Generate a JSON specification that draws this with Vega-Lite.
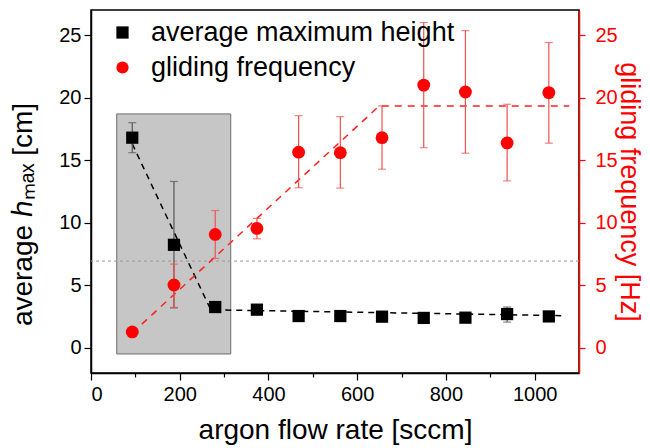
{
  "$schema": "https://vega.github.io/schema/vega-lite/v6.json",
  "width": 488,
  "height": 363,
  "autosize": {"type": "none"},
  "padding": {"left": 91, "top": 10, "right": 71, "bottom": 75},
  "background": "white",
  "config": {
    "font": "Liberation Sans",
    "view": {"stroke": "black", "strokeWidth": 1.5},
    "axis": {
      "grid": false,
      "labelFont": "Liberation Sans",
      "labelFontSize": 20,
      "labelColor": "black",
      "titleFont": "Liberation Sans",
      "titleFontSize": 28,
      "titleFontWeight": "normal",
      "titleColor": "black",
      "domainColor": "black",
      "domainWidth": 1.5,
      "tickColor": "black",
      "tickWidth": 1.2
    }
  },
  "datasets": {
    "pts": [
      {"series": "average maximum height", "x": 93, "y": 16.8, "lo": 15.6, "hi": 18.0},
      {"series": "average maximum height", "x": 187, "y": 8.24, "lo": 3.2, "hi": 13.3},
      {"series": "average maximum height", "x": 280, "y": 3.27, "lo": 3.1, "hi": 3.45},
      {"series": "average maximum height", "x": 374, "y": 3.06, "lo": 2.9, "hi": 3.2},
      {"series": "average maximum height", "x": 468, "y": 2.55, "lo": 2.4, "hi": 2.7},
      {"series": "average maximum height", "x": 562, "y": 2.55, "lo": 2.4, "hi": 2.7},
      {"series": "average maximum height", "x": 656, "y": 2.5, "lo": 2.35, "hi": 2.65},
      {"series": "average maximum height", "x": 750, "y": 2.4, "lo": 2.25, "hi": 2.55},
      {"series": "average maximum height", "x": 844, "y": 2.42, "lo": 2.27, "hi": 2.57},
      {"series": "average maximum height", "x": 938, "y": 2.71, "lo": 2.07, "hi": 3.27},
      {"series": "average maximum height", "x": 1032, "y": 2.52, "lo": 2.37, "hi": 2.67},
      {"series": "gliding frequency", "x": 93, "y": 1.28, "lo": 1.0, "hi": 1.55},
      {"series": "gliding frequency", "x": 187, "y": 5.03, "lo": 3.24, "hi": 6.7},
      {"series": "gliding frequency", "x": 280, "y": 9.07, "lo": 7.15, "hi": 10.98},
      {"series": "gliding frequency", "x": 374, "y": 9.55, "lo": 8.72, "hi": 10.35},
      {"series": "gliding frequency", "x": 468, "y": 15.64, "lo": 12.8, "hi": 18.56},
      {"series": "gliding frequency", "x": 562, "y": 15.6, "lo": 12.77, "hi": 18.48},
      {"series": "gliding frequency", "x": 656, "y": 16.8, "lo": 14.28, "hi": 19.34},
      {"series": "gliding frequency", "x": 750, "y": 21.0, "lo": 16.0, "hi": 26.0},
      {"series": "gliding frequency", "x": 844, "y": 20.45, "lo": 15.56, "hi": 25.35},
      {"series": "gliding frequency", "x": 938, "y": 16.38, "lo": 13.35, "hi": 19.47},
      {"series": "gliding frequency", "x": 1032, "y": 20.4, "lo": 16.36, "hi": 24.4}
    ],
    "fits": [
      {"series": "average maximum height", "x": 93, "y": 16.3},
      {"series": "average maximum height", "x": 270, "y": 3.05},
      {"series": "average maximum height", "x": 1066, "y": 2.58},
      {"series": "gliding frequency", "x": 93, "y": 1.2},
      {"series": "gliding frequency", "x": 650, "y": 19.34},
      {"series": "gliding frequency", "x": 1078, "y": 19.34}
    ],
    "box": [{"x0": 58, "x1": 315, "y0": -0.48, "y1": 18.7}],
    "hline": [{"y": 6.94}]
  },
  "layer": [
    {
      "layer": [
        {
          "data": {"name": "box"},
          "mark": {"type": "rect", "fill": "#c6c6c6", "stroke": "#6e6e6e", "strokeWidth": 1},
          "encoding": {
            "x": {"field": "x0", "type": "quantitative", "title": "argon flow rate [sccm]", "scale": {"domain": [0, 1100], "nice": false, "zero": false}, "axis": {"values": [0, 100, 200, 300, 400, 500, 600, 700, 800, 900, 1000], "format": "d", "labelExpr": "datum.value % 200 === 0 ? datum.label : ''", "tickSize": {"condition": {"test": "datum.value % 200 === 0", "value": 7}, "value": 4}, "labelPadding": 4, "titlePadding": 12}},
            "x2": {"field": "x1"},
            "y": {"field": "y0", "type": "quantitative", "title": "average ℎₘₐₓ [cm]", "scale": {"domain": [-2, 27], "nice": false, "zero": false}, "axis": {"orient": "left", "values": [0, 2.5, 5, 7.5, 10, 12.5, 15, 17.5, 20, 22.5, 25], "format": "d", "labelExpr": "datum.value % 5 === 0 ? datum.label : ''", "tickSize": {"condition": {"test": "datum.value % 5 === 0", "value": 7}, "value": 4}, "labelPadding": 3, "titlePadding": 21, "titleY": 204}},
            "y2": {"field": "y1"}
          }
        },
        {
          "data": {"name": "hline"},
          "mark": {"type": "rule", "color": "#999999", "strokeWidth": 1, "strokeDash": [3, 3]},
          "encoding": {
            "y": {"field": "y", "type": "quantitative", "title": "average ℎₘₐₓ [cm]"}
          }
        },
        {
          "data": {"name": "fits"},
          "transform": [{"filter": "datum.series === 'average maximum height'"}],
          "mark": {"type": "line", "color": "black", "strokeWidth": 1.5, "strokeDash": [6, 5]},
          "encoding": {
            "x": {"field": "x", "type": "quantitative", "title": "argon flow rate [sccm]"},
            "y": {"field": "y", "type": "quantitative", "title": "average ℎₘₐₓ [cm]"}
          }
        },
        {
          "data": {"name": "pts"},
          "transform": [{"filter": "datum.series === 'average maximum height'"}],
          "mark": {"type": "rule", "color": "#555555", "strokeWidth": 1.2},
          "encoding": {
            "x": {"field": "x", "type": "quantitative", "title": "argon flow rate [sccm]"},
            "y": {"field": "lo", "type": "quantitative", "title": "average ℎₘₐₓ [cm]"},
            "y2": {"field": "hi"}
          }
        },
        {
          "data": {"name": "pts"},
          "transform": [{"filter": "datum.series === 'average maximum height'"}, {"fold": ["lo", "hi"], "as": ["end", "v"]}],
          "mark": {"type": "tick", "orient": "horizontal", "color": "#555555", "size": 8, "thickness": 1.2},
          "encoding": {
            "x": {"field": "x", "type": "quantitative", "title": "argon flow rate [sccm]"},
            "y": {"field": "v", "type": "quantitative", "title": "average ℎₘₐₓ [cm]"}
          }
        },
        {
          "data": {"name": "pts"},
          "transform": [{"filter": "datum.series === 'average maximum height'"}],
          "mark": {"type": "point", "filled": true, "size": 150, "opacity": 1, "strokeWidth": 0},
          "encoding": {
            "x": {"field": "x", "type": "quantitative", "title": "argon flow rate [sccm]"},
            "y": {"field": "y", "type": "quantitative", "title": "average ℎₘₐₓ [cm]"},
            "color": {"field": "series", "type": "nominal", "scale": {"domain": ["average maximum height", "gliding frequency"], "range": ["#000000", "#ff0000"]}, "legend": {"orient": "none", "legendX": 18, "legendY": 9, "title": null, "labelFontSize": 27, "labelFont": "Liberation Sans", "labelColor": "black", "labelLimit": 500, "symbolSize": 150, "labelOffset": 15, "rowPadding": 7, "padding": 0, "symbolStrokeWidth": 0}},
            "shape": {"field": "series", "type": "nominal", "scale": {"domain": ["average maximum height", "gliding frequency"], "range": ["square", "circle"]}, "legend": {"orient": "none", "legendX": 18, "legendY": 9, "title": null, "labelFontSize": 27, "labelFont": "Liberation Sans", "labelColor": "black", "labelLimit": 500, "symbolSize": 150, "labelOffset": 15, "rowPadding": 7, "padding": 0, "symbolStrokeWidth": 0}}
          }
        }
      ]
    },
    {
      "layer": [
        {
          "data": {"name": "fits"},
          "transform": [{"filter": "datum.series === 'gliding frequency'"}],
          "mark": {"type": "line", "color": "#ff2020", "strokeWidth": 1.5, "strokeDash": [7, 6]},
          "encoding": {
            "x": {"field": "x", "type": "quantitative", "title": "argon flow rate [sccm]"},
            "y": {"field": "y", "type": "quantitative", "title": "gliding frequency [Hz]", "scale": {"domain": [-2, 27], "nice": false, "zero": false}, "axis": {"orient": "right", "values": [0, 2.5, 5, 7.5, 10, 12.5, 15, 17.5, 20, 22.5, 25], "format": "d", "labelExpr": "datum.value % 5 === 0 ? datum.label : ''", "tickSize": {"condition": {"test": "datum.value % 5 === 0", "value": 6}, "value": 4}, "labelPadding": 10, "titlePadding": -3, "titleFontSize": 27, "domainColor": "#ff0000", "tickColor": "#ff0000", "labelColor": "#ff0000", "titleColor": "#ff0000"}}
          }
        },
        {
          "data": {"name": "pts"},
          "transform": [{"filter": "datum.series === 'gliding frequency'"}],
          "mark": {"type": "rule", "color": "#f05050", "strokeWidth": 1.2},
          "encoding": {
            "x": {"field": "x", "type": "quantitative", "title": "argon flow rate [sccm]"},
            "y": {"field": "lo", "type": "quantitative", "title": "gliding frequency [Hz]"},
            "y2": {"field": "hi"}
          }
        },
        {
          "data": {"name": "pts"},
          "transform": [{"filter": "datum.series === 'gliding frequency'"}, {"fold": ["lo", "hi"], "as": ["end", "v"]}],
          "mark": {"type": "tick", "orient": "horizontal", "color": "#f05050", "size": 8, "thickness": 1.2},
          "encoding": {
            "x": {"field": "x", "type": "quantitative", "title": "argon flow rate [sccm]"},
            "y": {"field": "v", "type": "quantitative", "title": "gliding frequency [Hz]"}
          }
        },
        {
          "data": {"name": "pts"},
          "transform": [{"filter": "datum.series === 'gliding frequency'"}],
          "mark": {"type": "point", "filled": true, "size": 165, "opacity": 1, "strokeWidth": 0},
          "encoding": {
            "x": {"field": "x", "type": "quantitative", "title": "argon flow rate [sccm]"},
            "y": {"field": "y", "type": "quantitative", "title": "gliding frequency [Hz]"},
            "color": {"field": "series", "type": "nominal"},
            "shape": {"field": "series", "type": "nominal"}
          }
        }
      ]
    }
  ],
  "resolve": {"scale": {"y": "independent"}}
}
